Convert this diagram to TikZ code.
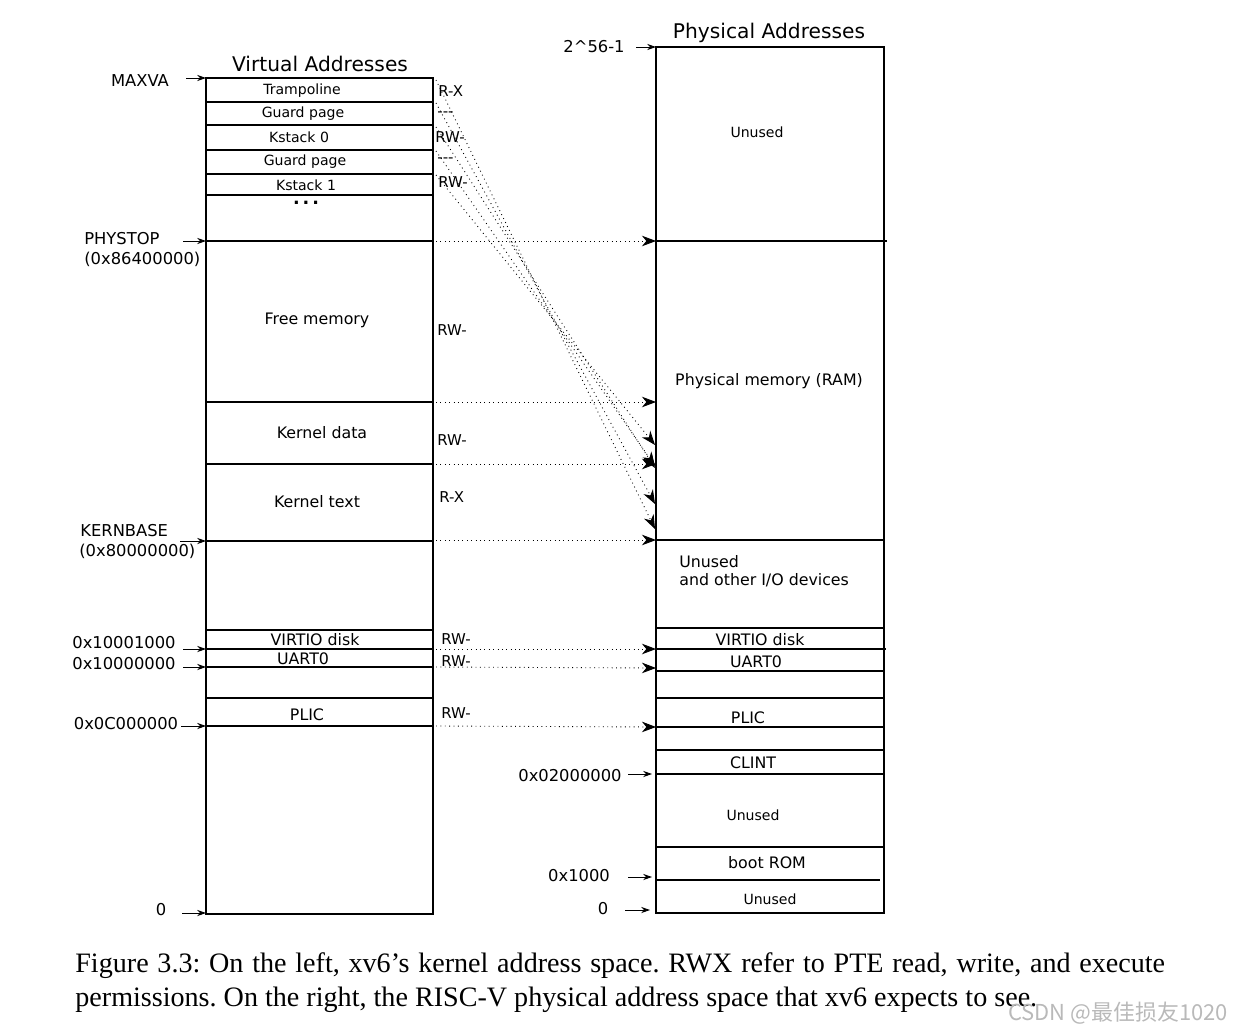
\documentclass[tikz,border=0pt]{standalone}
\usepackage{fontspec}
\setmainfont{DejaVu Sans}
\newfontfamily\capfont{Liberation Serif}
\newfontfamily\cjk{Noto Sans CJK SC}
\usetikzlibrary{arrows.meta}

\tikzset{
  title/.style={font=\fontsize{11.5}{13}\selectfont},
  small/.style={font=\fontsize{8}{9}\selectfont},
  region/.style={font=\fontsize{9}{10}\selectfont},
  perm/.style={font=\fontsize{8.5}{10}\selectfont, anchor=west, inner sep=0pt},
  addr/.style={font=\fontsize{9.3}{11}\selectfont},
  ptr/.style={-{Stealth[length=5pt,width=3.5pt]}, line width=0.5pt},
  map/.style={dotted, line width=0.5pt, -{Stealth[length=8pt,width=6pt,inset=2.5pt]}},
  box/.style={line width=0.9pt},
}

\begin{document}
\begin{tikzpicture}[x=0.02cm, y=-0.02cm]
    \useasboundingbox (0,0) rectangle (1246,1034);

    % Virtual address space
    \node[title] (vtitle) at (320,64) {Virtual Addresses};
    \draw[box] (206,78) rectangle (433,914);
    \foreach \y in {102,125,150,174,195,241,402,464,541,630,649,667,698,726}
        \draw[line width=0.6pt] (206,\y) -- (433,\y);
    \node[small] (tramp) at (302,91) {Trampoline};
    \node[small] (guard0) at (303,114) {Guard page};
    \node[small] (kstack0) at (299,137) {Kstack 0};
    \node[small] (guard1) at (305,162) {Guard page};
    \node[small, inner sep=0.5pt] (kstack1) at (306,185) {Kstack 1};
    \node[font=\bfseries, inner sep=0pt] (vdots) at (306,203) {.\,.\,.};
    \node[region] (free) at (317,320) {Free memory};
    \node[region] (kdata) at (322,433) {Kernel data};
    \node[region] (ktext) at (317,502) {Kernel text};
    \node[region] (vvirtio) at (315,640) {VIRTIO disk};
    \node[region] (vuart) at (303,659) {UART0};
    \node[region] (vplic) at (307,715) {PLIC};

    % Permissions
    \node[perm] (p-tramp) at (438,91) {R-X};
    \node[perm] (p-guard0) at (437,114) {-{}-{}-};
    \node[perm] (p-kstack0) at (435,137) {RW-};
    \node[perm] (p-guard1) at (437,160) {-{}-{}-};
    \node[perm] (p-kstack1) at (438,182) {RW-};
    \node[perm] (p-free) at (437,330) {RW-};
    \node[perm] (p-kdata) at (437,440) {RW-};
    \node[perm] (p-ktext) at (439,497) {R-X};
    \node[perm] (p-virtio) at (441,639) {RW-};
    \node[perm] (p-uart) at (441,661) {RW-};
    \node[perm] (p-plic) at (441,713) {RW-};

    % Virtual address labels
    \node[addr] (maxva) at (140,81) {MAXVA};
    \node[addr, anchor=west, inner sep=0pt] (phystop) at (84,239) {PHYSTOP};
    \node[addr, anchor=west, inner sep=0pt] (phystopv) at (84,259) {(0x86400000)};
    \node[addr, anchor=west, inner sep=0pt] (kernbase) at (80,531) {KERNBASE};
    \node[addr, anchor=west, inner sep=0pt] (kernbasev) at (79,551) {(0x80000000)};
    \node[addr] (a-virtio) at (124,643) {0x10001000};
    \node[addr] (a-uart) at (124,664) {0x10000000};
    \node[addr] (a-plic) at (126,724) {0x0C000000};
    \node[addr] (a-vzero) at (161,910) {0};
    \foreach \n/\x/\y in {maxva/186/78, phystop/183/241, kernbase/180/541,
        virtio/183/649, uart/183/667, plic/181/726, vzero/182/913} {
        \coordinate (\n-t) at (\x,\y);
        \coordinate (\n-h) at (206,\y);
        \draw[ptr] (\n-t) -- (\n-h);
    }

    % Physical address space
    \node[title] (ptitle) at (769,33) {Physical Addresses};
    \draw[box] (656,47) rectangle (884,913);
    \foreach \y in {540,628,671,698,727,750,774,847}
        \draw[line width=0.6pt] (656,\y) -- (884,\y);
    \draw[line width=0.6pt] (656,241) -- (887,241);
    \draw[line width=0.6pt] (656,649) -- (886,649);
    \draw[line width=0.6pt] (656,880) -- (880,880);
    \node[small] (unused-top) at (757,132) {Unused};
    \node[region] (ram) at (769,381) {Physical memory (RAM)};
    \node[region, anchor=west, align=left, inner sep=0pt] (unused-io) at (679,571) {Unused\\and other I/O devices};
    \node[region] (pvirtio) at (760,640) {VIRTIO disk};
    \node[region] (puart) at (756,662) {UART0};
    \node[region] (pplic) at (748,718) {PLIC};
    \node[region] (clint) at (753,763) {CLINT};
    \node[small] (unused-mid) at (753,815) {Unused};
    \node[region] (bootrom) at (767,863) {boot ROM};
    \node[small] (unused-low) at (770,899) {Unused};

    % Physical address labels
    \node[addr] (ptop) at (594,47) {2\^{}56-1};
    \node[addr] (a-clint) at (570,776) {0x02000000};
    \node[addr] (a-boot) at (579,876) {0x1000};
    \node[addr] (a-pzero) at (603,909) {0};
    \foreach \n/\x/\h/\y in {ptop/636/656/47, clint/628/652/774, boot/628/652/877, pzero/625/650/910} {
        \coordinate (\n-t) at (\x,\y);
        \coordinate (\n-h) at (\h,\y);
        \draw[ptr] (\n-t) -- (\n-h);
    }

    % Mappings
    \foreach \a/\b [count=\i] in {241/241, 402/402, 464/464, 540/540, 649/649, 667/668, 726/727} {
        \coordinate (va\i) at (436,\a);
        \coordinate (pa\i) at (656,\b);
        \draw[map] (va\i) -- (pa\i);
    }
    \foreach \a/\b [count=\i] in {80/529, 103/504, 127/468, 151/466, 175/445} {
        \coordinate (vk\i) at (436,\a);
        \coordinate (pk\i) at (655,\b);
        \draw[map] (vk\i) -- (pk\i);
    }

    % Caption
    \node[anchor=north west, inner sep=0pt, text width=21.8cm, align=justify,
        font=\capfont\fontsize{16}{19.4}\selectfont] (caption) at (75,952)
        {\frenchspacing Figure 3.3: On the left, xv6’s kernel address space. RWX refer to PTE read, write, and execute\linebreak permissions. On the right, the RISC-V physical address space that xv6 expects to see.};
    \node[anchor=east, text=gray!55, font=\cjk\fontsize{12.5}{14}\selectfont] (mark) at (1234,1013) {CSDN @最佳损友1020};
\end{tikzpicture}
\end{document}
